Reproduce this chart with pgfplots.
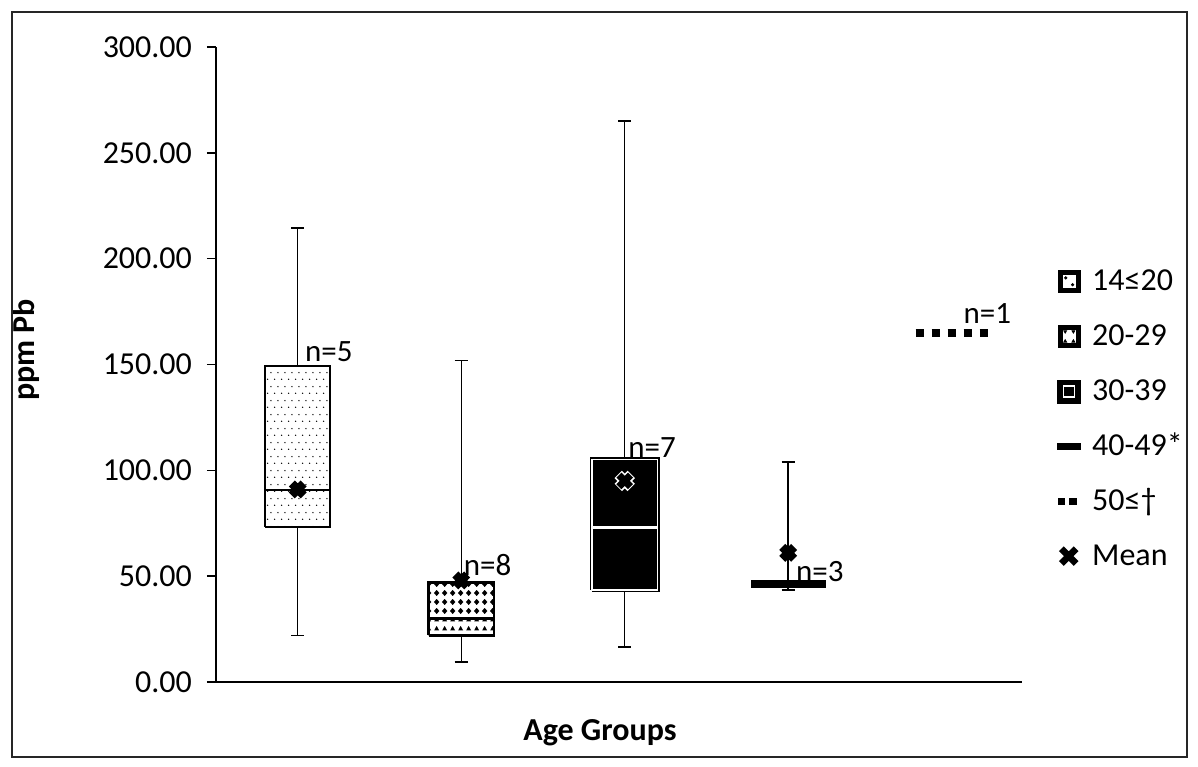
\documentclass[border=0pt]{standalone}
\usepackage{pgfplots}
\pgfplotsset{compat=1.18}
\usetikzlibrary{patterns}
\usepackage{fontspec}
\setmainfont{Carlito}
\newcommand\fs{\fontsize{16}{19}\selectfont}
\newcommand\fn{\fontsize{15.5}{18}\selectfont}

\pgfdeclarepatternformonly{sdots}{\pgfqpoint{0pt}{0pt}}{\pgfqpoint{3.6pt}{6.8pt}}{\pgfqpoint{3.6pt}{6.8pt}}{%
  \pgfpathcircle{\pgfqpoint{0.9pt}{0.9pt}}{0.38pt}%
  \pgfpathcircle{\pgfqpoint{2.7pt}{4.3pt}}{0.38pt}%
  \pgfusepath{fill}}
\pgfdeclarepatternformonly{diam}{\pgfqpoint{0pt}{0pt}}{\pgfqpoint{3.8pt}{4.2pt}}{\pgfqpoint{3.8pt}{4.2pt}}{%
  \pgfpathmoveto{\pgfqpoint{1.9pt}{0.55pt}}%
  \pgfpathlineto{\pgfqpoint{3.35pt}{2.1pt}}%
  \pgfpathlineto{\pgfqpoint{1.9pt}{3.65pt}}%
  \pgfpathlineto{\pgfqpoint{0.45pt}{2.1pt}}%
  \pgfpathclose
  \pgfusepath{fill}}
\pgfdeclarepatternformonly{tris}{\pgfqpoint{0pt}{0pt}}{\pgfqpoint{3.8pt}{4.2pt}}{\pgfqpoint{3.8pt}{4.2pt}}{%
  \pgfpathmoveto{\pgfqpoint{0.6pt}{0.8pt}}%
  \pgfpathlineto{\pgfqpoint{3.2pt}{0.8pt}}%
  \pgfpathlineto{\pgfqpoint{1.9pt}{3.2pt}}%
  \pgfpathclose
  \pgfusepath{fill}}

\begin{document}
\begin{tikzpicture}
\begin{axis}[
  scale only axis, width=403pt, height=317.5pt,
  xmin=0.5, xmax=5.43, ymin=0, ymax=300,
  axis x line=bottom, axis y line=left,
  axis line style={-, line width=0.7pt, black},
  xtick=\empty, ytick={0,50,100,150,200,250,300},
  tick align=outside, major tick length=4.5pt,
  tick style={black, line width=0.7pt},
  yticklabel style={/pgf/number format/.cd, fixed, fixed zerofill, precision=2, /tikz/.cd, font=\fs, xshift=-4pt},
  /pgf/number format/assume math mode=true,
  clip=false,
  legend style={at={(rel axis cs:1.0434,0.6548)}, anchor=north west, draw=none, fill=none, inner sep=0pt,
    row sep=11pt, column sep=4.5pt, font=\fs,
    nodes={inner sep=1pt, text height=11pt, text depth=3.5pt}},
  legend cell align=left,
]
% ---------- whiskers ----------
\addplot[black, line width=0.7pt, forget plot] coordinates {(1,22) (1,73)};
\addplot[black, line width=0.7pt, forget plot] coordinates {(1,149.5) (1,214.5)};
\addplot[black, line width=0.7pt, forget plot] coordinates {(0.96,22) (1.04,22)};
\addplot[black, line width=0.7pt, forget plot] coordinates {(0.96,214.5) (1.04,214.5)};
\addplot[black, line width=0.7pt, forget plot] coordinates {(2,9.5) (2,22)};
\addplot[black, line width=0.7pt, forget plot] coordinates {(2,47) (2,152)};
\addplot[black, line width=0.7pt, forget plot] coordinates {(1.96,9.5) (2.04,9.5)};
\addplot[black, line width=0.7pt, forget plot] coordinates {(1.96,152) (2.04,152)};
\addplot[black, line width=0.7pt, forget plot] coordinates {(3,16.5) (3,43.5)};
\addplot[black, line width=0.7pt, forget plot] coordinates {(3,105) (3,265)};
\addplot[black, line width=0.7pt, forget plot] coordinates {(2.96,16.5) (3.04,16.5)};
\addplot[black, line width=0.7pt, forget plot] coordinates {(2.96,265) (3.04,265)};
\addplot[black, line width=0.9pt, forget plot] coordinates {(4,43.5) (4,104)};
\addplot[black, line width=0.9pt, forget plot] coordinates {(3.96,43.5) (4.04,43.5)};
\addplot[black, line width=0.9pt, forget plot] coordinates {(3.96,104) (4.04,104)};
% ---------- Box 1: 14<=20 ----------
\addplot[draw=black, line width=1pt, fill=white, forget plot]
  coordinates {(0.8,73) (1.2,73) (1.2,149.5) (0.8,149.5) (0.8,73)};
\addplot[draw=black, line width=1pt, pattern=sdots, forget plot]
  coordinates {(0.8,73) (1.2,73) (1.2,149.5) (0.8,149.5) (0.8,73)};
\addplot[black, line width=1pt, forget plot] coordinates {(0.8,90.5) (1.2,90.5)};
% ---------- Box 2: 20-29 ----------
\addplot[draw=black, line width=1.2pt, fill=white, forget plot]
  coordinates {(1.8,22) (2.2,22) (2.2,47) (1.8,47) (1.8,22)};
\addplot[draw=none, pattern=diam, forget plot]
  coordinates {(1.8,30) (2.2,30) (2.2,47) (1.8,47) (1.8,30)};
\addplot[draw=none, pattern=tris, forget plot]
  coordinates {(1.8,22) (2.2,22) (2.2,30) (1.8,30) (1.8,22)};
\addplot[draw=black, line width=1.2pt, forget plot]
  coordinates {(1.8,22) (2.2,22) (2.2,47) (1.8,47) (1.8,22)};
\addplot[black, line width=1.1pt, forget plot] coordinates {(1.8,30) (2.2,30)};
% ---------- Box 3: 30-39 ----------
\addplot[draw=black, line width=2.4pt, fill=black, forget plot]
  coordinates {(2.8,43.5) (3.2,43.5) (3.2,105) (2.8,105) (2.8,43.5)};
\addplot[draw=white, line width=0.6pt, forget plot]
  coordinates {(2.8,43.5) (3.2,43.5) (3.2,105) (2.8,105) (2.8,43.5)};
\addplot[white, line width=1.2pt, forget plot] coordinates {(2.8,73) (3.2,73)};
% ---------- Box 4: 40-49 ----------
\addplot[draw=black, line width=0.5pt, fill=black, forget plot]
  coordinates {(3.775,44.5) (4.225,44.5) (4.225,48) (3.775,48) (3.775,44.5)};
% ---------- Group 5: 50<=, n=1 ----------
\addplot[black, line width=4pt, dash pattern=on 4pt off 4pt, forget plot]
  coordinates {(4.78,165) (5.22,165)};
% ---------- Means ----------
\addplot[only marks, mark=x, mark size=4.2pt, line width=4.2pt, black, forget plot]
  coordinates {(1,91) (2,48) (4,61)};
\addplot[only marks, mark=x, mark size=4.6pt, line width=5.2pt, white, forget plot]
  coordinates {(3,95)};
\addplot[only marks, mark=x, mark size=4.1pt, line width=3.5pt, black, forget plot]
  coordinates {(3,95)};

% n labels
\node[font=\fn, anchor=west, inner sep=0pt] at (axis cs:1.043,155.9) {n=5};
\node[font=\fn, anchor=west, inner sep=0pt] at (axis cs:2.014,55.3) {n=8};
\node[font=\fn, anchor=west, inner sep=0pt] at (axis cs:3.02,111) {n=7};
\node[font=\fn, anchor=west, inner sep=0pt] at (axis cs:4.046,52) {n=3};
\node[font=\fn, anchor=west, inner sep=0pt] at (axis cs:5.07,174.3) {n=1};

% axis labels
\node[font=\fs\bfseries, rotate=90] at (axis description cs:-0.2357,0.5228) {ppm Pb};
\node[font=\fs\bfseries] at (axis description cs:0.4764,-0.0803) {Age Groups};

% legend
\addlegendimage{legend image code/.code={
  \path[draw=none,fill=none] (0pt,-4.5pt) rectangle (11.5pt,6.5pt);
  \draw[black, line width=2.6pt, fill=white] (1.3pt,-3.6pt) rectangle (10.2pt,5.3pt);
  \fill[black] (4pt,2.6pt) circle (0.6pt); \fill[black] (7.4pt,-0.8pt) circle (0.6pt);}}
\addlegendentry{14≤20}
\addlegendimage{legend image code/.code={
  \path[draw=none,fill=none] (0pt,-4.5pt) rectangle (11.5pt,6.5pt);
  \draw[black, line width=2.6pt, fill=white] (1.3pt,-3.6pt) rectangle (10.2pt,5.3pt);
  \fill[black] (3pt,3.7pt) -- (4.4pt,3.7pt) -- (3.7pt,2.5pt) -- cycle;
  \fill[black] (7.1pt,3.7pt) -- (8.5pt,3.7pt) -- (7.8pt,2.5pt) -- cycle;
  \fill[black] (3pt,-2pt) -- (4.4pt,-2pt) -- (3.7pt,-0.8pt) -- cycle;
  \fill[black] (7.1pt,-2pt) -- (8.5pt,-2pt) -- (7.8pt,-0.8pt) -- cycle;}}
\addlegendentry{20-29}
\addlegendimage{legend image code/.code={
  \path[draw=none,fill=none] (0pt,-4.5pt) rectangle (11.5pt,6.5pt);
  \fill[black] (0pt,-4.9pt) rectangle (11.5pt,6.6pt);
  \draw[white, line width=0.7pt] (3pt,-1.9pt) rectangle (8.5pt,3.6pt);}}
\addlegendentry{30-39}
\addlegendimage{legend image code/.code={
  \path[draw=none,fill=none] (0pt,-4.5pt) rectangle (11.5pt,6.5pt);
  \fill[black] (0pt,-0.7pt) rectangle (11.5pt,2.5pt);}}
\addlegendentry{40-49*}
\addlegendimage{legend image code/.code={
  \path[draw=none,fill=none] (0pt,-4.5pt) rectangle (11.5pt,6.5pt);
  \fill[black] (0.5pt,-0.5pt) rectangle (3.5pt,2.5pt);
  \fill[black] (6pt,-0.5pt) rectangle (9.5pt,2.5pt);}}
\addlegendentry{50≤†}
\addlegendimage{legend image code/.code={
  \path[draw=none,fill=none] (0pt,-4.5pt) rectangle (11.5pt,6.5pt);
  \draw[black, line width=3.4pt] (1.8pt,-2.7pt) -- (9.2pt,4.7pt) (1.8pt,4.7pt) -- (9.2pt,-2.7pt);}}
\addlegendentry{Mean}
\end{axis}
\draw[line width=1pt, black!85] (-102pt,-37.5pt) rectangle (485.5pt,335pt);
\path (-108pt,-42pt) rectangle (491pt,341pt);
\end{tikzpicture}
\end{document}
